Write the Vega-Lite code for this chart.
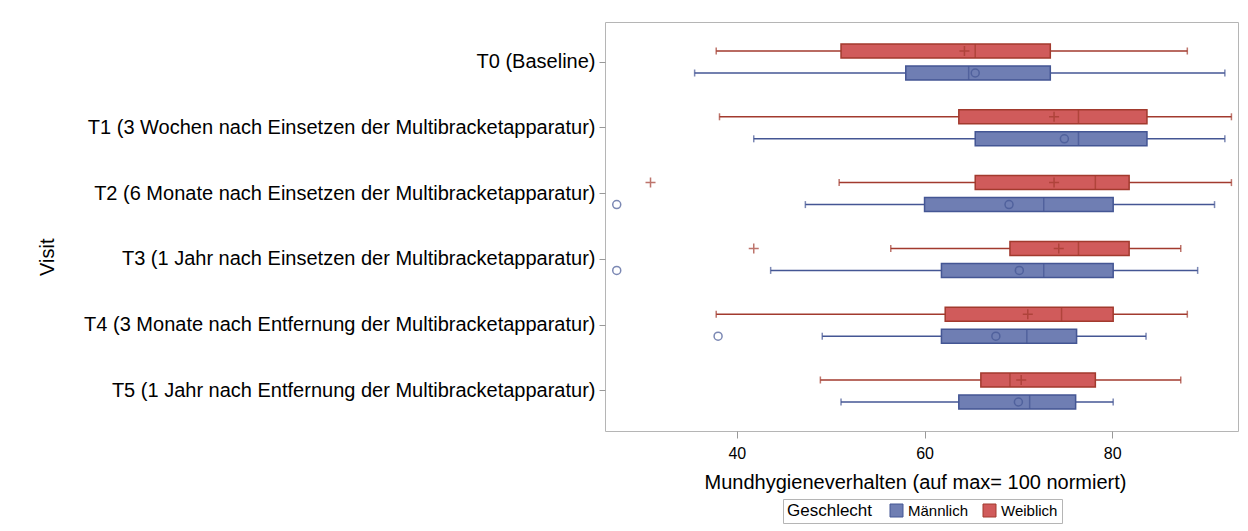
{
  "$schema": "https://vega.github.io/schema/vega-lite/v6.json",
  "autosize": {"type": "none"},
  "width": 633,
  "height": 409,
  "padding": {"left": 605, "top": 22, "right": 10, "bottom": 100},
  "background": "white",
  "config": {
    "view": {"stroke": "#b5b5b5", "strokeWidth": 1},
    "font": "Liberation Sans"
  },
  "datasets": {
    "stats": [
      {"visit": "T0 (Baseline)", "sex": "Weiblich", "lo": 37.8, "q1": 51.1, "median": 65.4, "q3": 73.4, "hi": 88.0, "mean": 64.25},
      {"visit": "T0 (Baseline)", "sex": "Männlich", "lo": 35.5, "q1": 58.0, "median": 64.7, "q3": 73.4, "hi": 92.0, "mean": 65.4},
      {"visit": "T1 (3 Wochen nach Einsetzen der Multibracketapparatur)", "sex": "Weiblich", "lo": 38.15, "q1": 63.65, "median": 76.4, "q3": 83.7, "hi": 92.7, "mean": 73.8},
      {"visit": "T1 (3 Wochen nach Einsetzen der Multibracketapparatur)", "sex": "Männlich", "lo": 41.8, "q1": 65.4, "median": 76.4, "q3": 83.7, "hi": 92.0, "mean": 74.9},
      {"visit": "T2 (6 Monate nach Einsetzen der Multibracketapparatur)", "sex": "Weiblich", "lo": 50.9, "q1": 65.4, "median": 78.2, "q3": 81.8, "hi": 92.7, "mean": 73.8},
      {"visit": "T2 (6 Monate nach Einsetzen der Multibracketapparatur)", "sex": "Männlich", "lo": 47.3, "q1": 60.0, "median": 72.7, "q3": 80.1, "hi": 90.9, "mean": 69.0},
      {"visit": "T3 (1 Jahr nach Einsetzen der Multibracketapparatur)", "sex": "Weiblich", "lo": 56.4, "q1": 69.1, "median": 76.4, "q3": 81.8, "hi": 87.3, "mean": 74.3},
      {"visit": "T3 (1 Jahr nach Einsetzen der Multibracketapparatur)", "sex": "Männlich", "lo": 43.6, "q1": 61.8, "median": 72.7, "q3": 80.1, "hi": 89.1, "mean": 70.1},
      {"visit": "T4 (3 Monate nach Entfernung der Multibracketapparatur)", "sex": "Weiblich", "lo": 37.8, "q1": 62.2, "median": 74.6, "q3": 80.1, "hi": 88.0, "mean": 71.0},
      {"visit": "T4 (3 Monate nach Entfernung der Multibracketapparatur)", "sex": "Männlich", "lo": 49.1, "q1": 61.8, "median": 70.9, "q3": 76.2, "hi": 83.6, "mean": 67.6},
      {"visit": "T5 (1 Jahr nach Entfernung der Multibracketapparatur)", "sex": "Weiblich", "lo": 48.9, "q1": 66.0, "median": 69.1, "q3": 78.2, "hi": 87.3, "mean": 70.3},
      {"visit": "T5 (1 Jahr nach Entfernung der Multibracketapparatur)", "sex": "Männlich", "lo": 51.1, "q1": 63.65, "median": 71.2, "q3": 76.1, "hi": 80.1, "mean": 70.0}
    ],
    "outliers": [
      {"visit": "T2 (6 Monate nach Einsetzen der Multibracketapparatur)", "sex": "Weiblich", "value": 30.8},
      {"visit": "T2 (6 Monate nach Einsetzen der Multibracketapparatur)", "sex": "Männlich", "value": 27.2},
      {"visit": "T3 (1 Jahr nach Einsetzen der Multibracketapparatur)", "sex": "Weiblich", "value": 41.8},
      {"visit": "T3 (1 Jahr nach Einsetzen der Multibracketapparatur)", "sex": "Männlich", "value": 27.2},
      {"visit": "T4 (3 Monate nach Entfernung der Multibracketapparatur)", "sex": "Männlich", "value": 38.0}
    ]
  },
  "encoding": {
    "y": {
      "field": "visit",
      "type": "nominal",
      "title": "Visit",
      "scale": {
        "domain": [
          "T0 (Baseline)",
          "T1 (3 Wochen nach Einsetzen der Multibracketapparatur)",
          "T2 (6 Monate nach Einsetzen der Multibracketapparatur)",
          "T3 (1 Jahr nach Einsetzen der Multibracketapparatur)",
          "T4 (3 Monate nach Entfernung der Multibracketapparatur)",
          "T5 (1 Jahr nach Entfernung der Multibracketapparatur)"
        ],
        "paddingInner": 0.331,
        "paddingOuter": 0.2735
      },
      "axis": {
        "domain": false,
        "labelFontSize": 20,
        "labelLimit": 700,
        "labelPadding": 4,
        "labelColor": "black",
        "tickSize": 6,
        "tickColor": "#999999",
        "titleFontSize": 20,
        "titleFontWeight": "normal",
        "titleColor": "black",
        "titleX": -558,
        "titleY": 234.7,
        "titleAlign": "center",
        "titleBaseline": "middle",
        "titleAngle": -90
      }
    },
    "yOffset": {
      "field": "sex",
      "type": "nominal",
      "scale": {"domain": ["Weiblich", "Männlich"], "paddingInner": 0.364, "paddingOuter": 0.182}
    }
  },
  "layer": [
    {
      "data": {"name": "stats"},
      "mark": {"type": "rule", "strokeWidth": 1.5},
      "encoding": {
        "x": {
          "field": "lo",
          "type": "quantitative",
          "scale": {"domain": [25.95, 93.4], "nice": false, "zero": false},
          "axis": {
            "values": [40, 60, 80],
            "grid": false,
            "domain": false,
            "labelFontSize": 16,
            "labelColor": "black",
            "labelPadding": 7,
            "tickSize": 7,
            "tickColor": "#999999",
            "title": "Mundhygieneverhalten (auf max= 100 normiert)",
            "titleFontSize": 20,
            "titleFontWeight": "normal",
            "titleColor": "black",
            "titleX": 310,
            "titleY": 57,
            "titleAlign": "center",
            "titleBaseline": "alphabetic"
          }
        },
        "x2": {"field": "hi"},
        "color": {"field": "sex", "type": "nominal", "scale": {"domain": ["Weiblich", "Männlich"], "range": ["#A23A2E", "#445694"]}, "legend": null}
      }
    },
    {
      "data": {"name": "stats"},
      "mark": {"type": "tick", "size": 7, "thickness": 1.5},
      "encoding": {
        "x": {"field": "lo", "type": "quantitative"},
        "color": {"field": "sex", "type": "nominal", "legend": null}
      }
    },
    {
      "data": {"name": "stats"},
      "mark": {"type": "tick", "size": 7, "thickness": 1.5},
      "encoding": {
        "x": {"field": "hi", "type": "quantitative"},
        "color": {"field": "sex", "type": "nominal", "legend": null}
      }
    },
    {
      "data": {"name": "stats"},
      "mark": {"type": "bar", "strokeWidth": 1.5},
      "encoding": {
        "x": {"field": "q1", "type": "quantitative"},
        "x2": {"field": "q3"},
        "fill": {
          "field": "sex",
          "type": "nominal",
          "title": "Geschlecht",
          "scale": {"domain": ["Männlich", "Weiblich"], "range": ["#6F7EB3", "#D05B5B"]},
          "legend": {
            "orient": "none",
            "legendX": 178,
            "legendY": 477,
            "direction": "horizontal",
            "titleOrient": "left",
            "strokeColor": "#b5b5b5",
            "padding": 4,
            "symbolType": "square",
            "symbolSize": 169,
            "symbolStrokeWidth": 1,
            "labelFontSize": 15,
            "labelColor": "black",
            "labelOffset": 4,
            "columnPadding": 12,
            "titleFontSize": 17,
            "titleFontWeight": "normal",
            "titleColor": "black",
            "titlePadding": 16
          }
        },
        "stroke": {
          "field": "sex",
          "type": "nominal",
          "title": "Geschlecht",
          "scale": {"domain": ["Männlich", "Weiblich"], "range": ["#445694", "#A23A2E"]},
          "legend": {
            "orient": "none",
            "legendX": 178,
            "legendY": 477,
            "direction": "horizontal",
            "titleOrient": "left",
            "strokeColor": "#b5b5b5",
            "padding": 4,
            "symbolType": "square",
            "symbolSize": 169,
            "symbolStrokeWidth": 1,
            "labelFontSize": 15,
            "labelColor": "black",
            "labelOffset": 4,
            "columnPadding": 12,
            "titleFontSize": 17,
            "titleFontWeight": "normal",
            "titleColor": "black",
            "titlePadding": 16
          }
        }
      }
    },
    {
      "data": {"name": "stats"},
      "mark": {"type": "tick", "size": 14, "thickness": 1.5},
      "encoding": {
        "x": {"field": "median", "type": "quantitative"},
        "color": {"field": "sex", "type": "nominal", "legend": null}
      }
    },
    {
      "data": {"name": "stats"},
      "transform": [{"filter": "datum.sex === 'Männlich'"}],
      "mark": {"type": "point", "shape": "circle", "filled": false, "size": 64, "strokeWidth": 1.5},
      "encoding": {
        "x": {"field": "mean", "type": "quantitative"},
        "color": {"field": "sex", "type": "nominal", "legend": null}
      }
    },
    {
      "data": {"name": "stats"},
      "transform": [{"filter": "datum.sex === 'Weiblich'"}],
      "mark": {"type": "point", "shape": "M-1,0L1,0M0,-1L0,1", "filled": false, "size": 100, "strokeWidth": 1.5},
      "encoding": {
        "x": {"field": "mean", "type": "quantitative"},
        "color": {"field": "sex", "type": "nominal", "legend": null}
      }
    },
    {
      "data": {"name": "outliers"},
      "transform": [{"filter": "datum.sex === 'Männlich'"}],
      "mark": {"type": "point", "shape": "circle", "filled": false, "size": 64, "strokeWidth": 1.5},
      "encoding": {
        "x": {"field": "value", "type": "quantitative"},
        "color": {"field": "sex", "type": "nominal", "legend": null}
      }
    },
    {
      "data": {"name": "outliers"},
      "transform": [{"filter": "datum.sex === 'Weiblich'"}],
      "mark": {"type": "point", "shape": "M-1,0L1,0M0,-1L0,1", "filled": false, "size": 100, "strokeWidth": 1.5},
      "encoding": {
        "x": {"field": "value", "type": "quantitative"},
        "color": {"field": "sex", "type": "nominal", "legend": null}
      }
    }
  ]
}
